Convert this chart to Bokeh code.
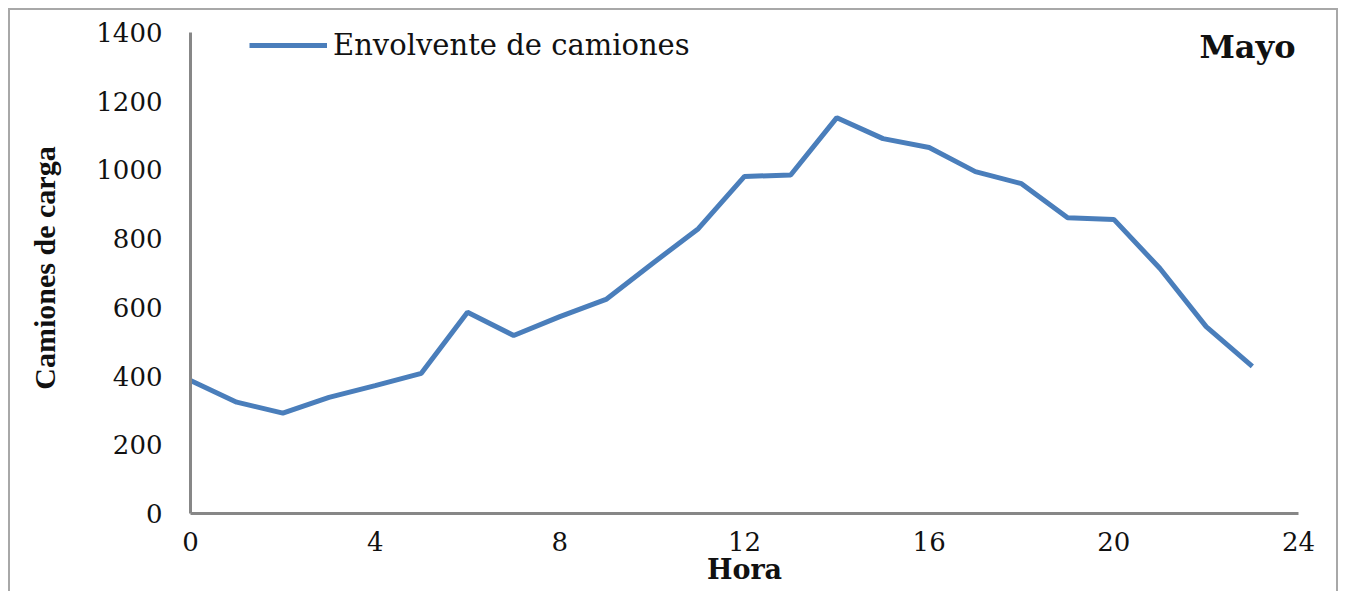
from bokeh.plotting import figure
from bokeh.models import Range1d, FixedTicker, Legend, LegendItem, Label
from bokeh.embed import file_html
from bokeh.resources import INLINE

hours = list(range(24))
trucks = [387, 324, 292, 338, 372, 408, 586, 518, 573, 623, 727, 829, 981, 985,
          1152, 1091, 1065, 995, 960, 861, 856, 713, 544, 428]
x_ticks = [0, 4, 8, 12, 16, 20, 24]
y_ticks = [0, 200, 400, 600, 800, 1000, 1200, 1400]
series_name = "Envolvente de camiones"
month = "Mayo"
x_title = "Hora"
y_title = "Camiones de carga"

FONT = "DejaVu Serif"
AXIS_GRAY = "#878787"
Y_TOP = 1429  # a little headroom above the last tick so the legend is not clipped

p = figure(width=1330, height=583, output_backend="svg", toolbar_location=None,
           x_range=Range1d(0, 24), y_range=Range1d(0, Y_TOP),
           min_border_left=180, min_border_top=12, min_border_right=42,
           min_border_bottom=80)
p.styles = {"margin-left": "8px", "margin-top": "8px",
            "border-top": "2px solid #a8a8a8", "border-left": "2px solid #a8a8a8",
            "border-right": "2px solid #a8a8a8"}
p.outline_line_color = None
p.xgrid.grid_line_color = None
p.ygrid.grid_line_color = None

r = p.line(hours, trucks, line_color="#4A7EBB", line_width=5)

for ax in (p.xaxis[0], p.yaxis[0]):
    ax.axis_line_color = AXIS_GRAY
    ax.axis_line_width = 3
    ax.major_tick_line_color = None
    ax.minor_tick_line_color = None
    ax.major_tick_out = 0
    ax.major_tick_in = 0
    ax.minor_tick_out = 0
    ax.minor_tick_in = 0
    ax.major_label_text_font = FONT
    ax.major_label_text_font_size = "26px"
    ax.major_label_text_color = "#111111"
    ax.axis_label_text_font = FONT
    ax.axis_label_text_font_style = "bold"
    ax.axis_label_text_color = "#111111"

p.xaxis.ticker = FixedTicker(ticks=x_ticks)
p.yaxis.ticker = FixedTicker(ticks=y_ticks)
p.yaxis.bounds = (y_ticks[0], y_ticks[-1])
p.xaxis.major_label_standoff = 18
p.yaxis.major_label_standoff = 28
p.xaxis.axis_label = x_title
p.yaxis.axis_label = y_title
p.xaxis.axis_label_standoff = 0
p.xaxis.axis_label_text_font_size = "27px"
p.yaxis.axis_label_standoff = 32
p.yaxis.axis_label_text_font = "Liberation Serif"
p.yaxis.axis_label_text_font_size = "30px"

legend = Legend(items=[LegendItem(label=series_name, renderers=[r])],
                location=(59, 448), padding=0, margin=0, spacing=0,
                glyph_width=78, glyph_height=40, label_height=40,
                label_width=420, label_standoff=6, border_line_color=None,
                background_fill_alpha=0,
                label_text_font=FONT, label_text_font_size="29px",
                label_text_color="#111111")
p.add_layout(legend)

p.add_layout(Label(x=1105, y=467, x_units="screen", y_units="screen", text=month,
                   text_align="right", text_baseline="middle",
                   text_font=FONT, text_font_style="bold",
                   text_font_size="32px", text_color="#111111"))

open("out.html", "w").write(file_html(p, INLINE))
